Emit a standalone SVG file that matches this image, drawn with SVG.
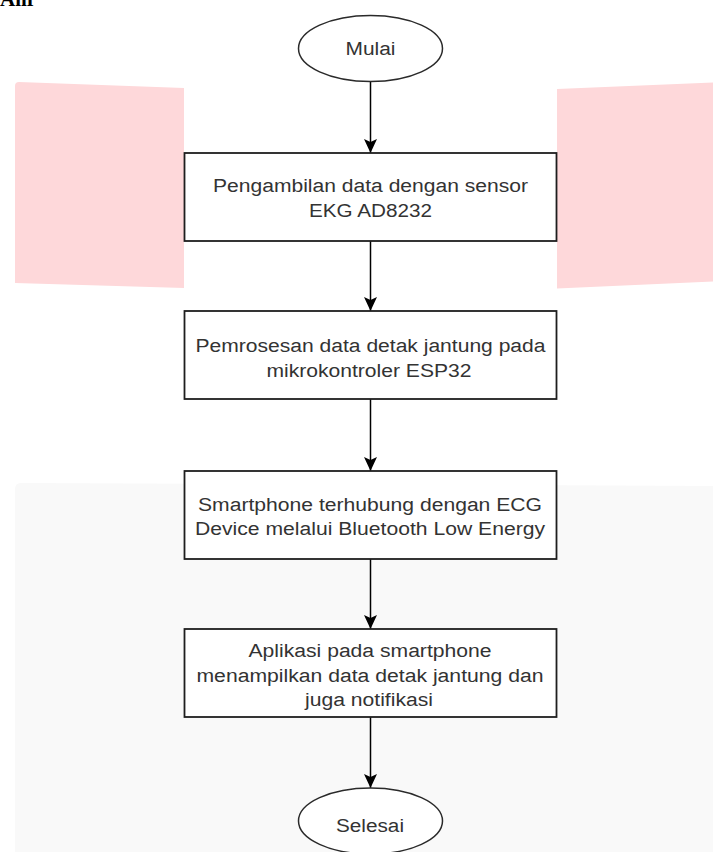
<svg xmlns="http://www.w3.org/2000/svg" width="713" height="852" viewBox="0 0 713 852">
<style>
.bg{fill:#ffffff}
.pink{fill:#fed8da}
.gray{fill:#f9f9f9}
.node{fill:#ffffff;stroke:#1e1e1e;stroke-width:1.8}
.term{fill:#ffffff;stroke:#2a2a2a;stroke-width:1.5}
.lbl{font-family:"Liberation Sans",Arial,sans-serif;font-size:18px;fill:#333333;text-anchor:middle}
.conn{stroke:#000000;stroke-width:1.5;fill:none}
.head{font-family:"Liberation Serif","Times New Roman",serif;font-size:21px;font-weight:bold;fill:#000000}
</style>
<defs>
<marker id="arrow" markerUnits="userSpaceOnUse" markerWidth="14" markerHeight="13" viewBox="0 0 14 13" refX="14" refY="6.5" orient="auto">
<path d="M0,0 L14,6.5 L0,13 L3,6.5 Z" fill="#000000"/>
</marker>
</defs>
<rect class="bg" x="0" y="0" width="713" height="852"/>
<g id="background">
<path class="pink" d="M15,86 Q15,82 19,82 L184,88 L184,288 L15,283 Z"/>
<path class="pink" d="M557,89 L713,82.5 L713,281.5 L557,288.5 Z"/>
<path class="gray" d="M15,489 Q15,483 21,483 L713,486 L713,852 L15,852 Z"/>
<text class="head" x="0" y="6">Alir</text>
</g>
<g id="connectors">
<line class="conn" x1="370.5" y1="81.5" x2="370.5" y2="153" marker-end="url(#arrow)"/>
<line class="conn" x1="370.5" y1="241" x2="370.5" y2="311" marker-end="url(#arrow)"/>
<line class="conn" x1="370.5" y1="399" x2="370.5" y2="471" marker-end="url(#arrow)"/>
<line class="conn" x1="370.5" y1="559" x2="370.5" y2="629" marker-end="url(#arrow)"/>
<line class="conn" x1="370.5" y1="717" x2="370.5" y2="788" marker-end="url(#arrow)"/>
</g>
<g id="mulai">
<ellipse class="term" cx="370.5" cy="48.5" rx="72" ry="33"/>
<text class="lbl" x="370.5" y="55" textLength="50" lengthAdjust="spacingAndGlyphs">Mulai</text>
</g>
<g id="step1">
<rect class="node" x="184.5" y="153" width="372" height="88"/>
<text class="lbl" x="370.5" y="191.5" textLength="315" lengthAdjust="spacingAndGlyphs">Pengambilan data dengan sensor</text>
<text class="lbl" x="370.5" y="216.5" textLength="123" lengthAdjust="spacingAndGlyphs">EKG AD8232</text>
</g>
<g id="step2">
<rect class="node" x="184.5" y="311" width="372" height="88"/>
<text class="lbl" x="370.5" y="351.5" textLength="350" lengthAdjust="spacingAndGlyphs">Pemrosesan data detak jantung pada</text>
<text class="lbl" x="369" y="376.5" textLength="205" lengthAdjust="spacingAndGlyphs">mikrokontroler ESP32</text>
</g>
<g id="step3">
<rect class="node" x="184.5" y="471" width="372" height="88"/>
<text class="lbl" x="370" y="510.5" textLength="344" lengthAdjust="spacingAndGlyphs">Smartphone terhubung dengan ECG</text>
<text class="lbl" x="370" y="535" textLength="350" lengthAdjust="spacingAndGlyphs">Device melalui Bluetooth Low Energy</text>
</g>
<g id="step4">
<rect class="node" x="184.5" y="629" width="372" height="88"/>
<text class="lbl" x="370" y="656.5" textLength="243" lengthAdjust="spacingAndGlyphs">Aplikasi pada smartphone</text>
<text class="lbl" x="370" y="681.5" textLength="347" lengthAdjust="spacingAndGlyphs">menampilkan data detak jantung dan</text>
<text class="lbl" x="369" y="706" textLength="128" lengthAdjust="spacingAndGlyphs">juga notifikasi</text>
</g>
<g id="selesai">
<ellipse class="term" cx="370.5" cy="821" rx="72" ry="33"/>
<text class="lbl" x="370" y="831.5" textLength="68" lengthAdjust="spacingAndGlyphs">Selesai</text>
</g>
</svg>
